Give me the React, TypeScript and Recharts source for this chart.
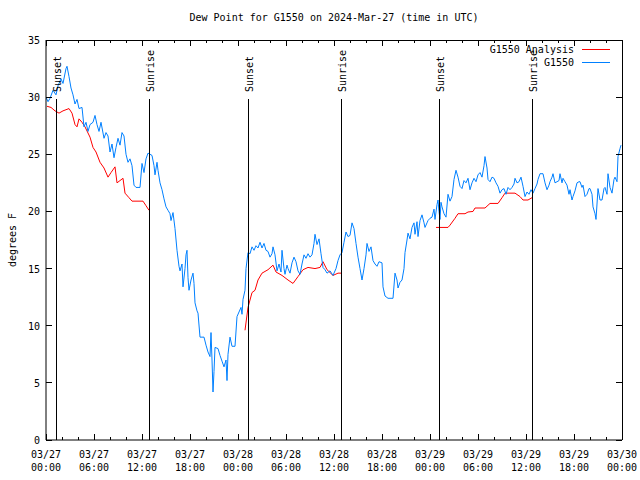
import React from 'react';
import { LineChart, Line, XAxis, YAxis, ReferenceLine } from 'recharts';

const FONT = '"DejaVu Sans Mono", monospace';
const PLOT_TOP = 40;
const PLOT_BOTTOM = 440;
const PLOT_LEFT = 46;
const PLOT_RIGHT = 622;

// hours since 03/27 00:00 UTC, dew point F
const stationObs: [number, number][] = [
  [0, 30.0], [0.25, 29.6], [0.5, 29.9], [0.875, 30.6], [1.25, 30.2], [1.5, 31.0], [1.875, 31.6], [2.125, 31.2],
  [2.5, 32.5], [2.625, 32.7], [2.875, 31.8], [3.125, 30.8], [3.375, 30.2], [3.625, 29.4], [3.875, 29.8], [4.125, 29.0],
  [4.5, 29.1], [4.75, 27.4], [5, 27.8], [5.25, 27.0], [5.5, 27.6], [5.875, 27.8], [6.125, 28.4], [6.375, 27.6],
  [6.625, 27.0], [6.875, 27.8], [7.25, 26.4], [7.5, 26.9], [7.75, 26.6], [8, 25.2], [8.25, 25.9], [8.5, 24.7],
  [8.75, 25.6], [9, 26.4], [9.25, 25.8], [9.5, 26.9], [9.75, 26.6], [10, 25.0], [10.25, 24.3], [10.5, 24.6],
  [10.75, 24.0], [11, 22.3], [11.25, 22.1], [11.75, 22.1], [12, 24.2], [12.25, 23.4], [12.5, 24.6], [12.75, 25.1],
  [13, 25.0], [13.25, 24.9], [13.5, 24.0], [13.625, 23.2], [13.875, 24.3], [14, 23.6], [14.25, 22.5], [14.5, 21.9],
  [14.75, 21.1], [15, 20.4], [15.25, 20.1], [15.5, 19.8], [15.625, 19.2], [15.875, 19.9], [16.125, 18.5], [16.375, 16.6],
  [16.625, 15.2], [16.75, 14.8], [17, 15.4], [17.125, 13.4], [17.375, 15.0], [17.5, 16.2], [17.625, 16.6], [17.75, 14.2],
  [17.875, 13.1], [18.125, 14.0], [18.375, 14.6], [18.5, 13.7], [18.625, 12.0], [18.875, 11.3], [19, 11.1], [19.25, 9.0],
  [19.75, 9.0], [20, 8.3], [20.25, 7.7], [20.5, 7.3], [20.625, 9.4], [20.75, 7.0], [20.875, 4.2], [21, 6.0],
  [21.125, 8.1], [21.5, 8.0], [21.75, 7.4], [22, 6.9], [22.25, 6.4], [22.5, 7.0], [22.625, 5.2], [22.75, 7.5],
  [23, 9.0], [23.25, 8.2], [23.625, 8.2], [23.875, 10.8], [24.125, 11.2], [24.375, 11.6], [24.5, 11.0], [24.625, 12.3],
  [24.875, 13.1], [25, 15.0], [25.25, 16.4], [25.5, 16.3], [25.75, 16.9], [26, 16.6], [26.25, 17.0], [26.5, 16.8],
  [26.75, 17.3], [27, 16.8], [27.25, 17.2], [27.5, 16.6], [27.75, 16.5], [28, 16.0], [28.25, 16.3], [28.375, 16.9],
  [28.625, 16.2], [28.875, 14.8], [29.125, 15.4], [29.375, 14.7], [29.5, 16.6], [29.75, 15.0], [29.875, 14.5], [30.125, 15.3],
  [30.25, 15.0], [30.5, 14.6], [30.75, 15.5], [31, 16.0], [31.25, 15.6], [31.5, 14.8], [31.75, 14.5], [32, 15.4],
  [32.25, 16.2], [32.5, 15.9], [32.75, 16.3], [33, 16.0], [33.25, 16.2], [33.5, 17.2], [33.625, 18.0], [33.875, 17.1],
  [34.125, 17.6], [34.375, 16.3], [34.625, 15.1], [34.875, 14.9], [35.125, 14.6], [35.5, 14.8], [35.875, 14.4], [36.25, 15.0],
  [36.5, 15.7], [36.75, 16.2], [37, 16.4], [37.25, 17.3], [37.5, 18.2], [37.75, 17.8], [38, 17.9], [38.25, 19.0],
  [38.5, 18.5], [38.75, 17.2], [39, 16.0], [39.25, 15.0], [39.5, 14.0], [39.75, 15.0], [40, 16.2], [40.125, 17.2],
  [40.375, 16.5], [40.625, 16.9], [40.875, 15.7], [41.125, 15.4], [41.375, 15.2], [41.625, 15.6], [42, 15.5], [42.125, 13.4],
  [42.375, 12.6], [42.75, 12.4], [43.375, 12.4], [43.625, 14.6], [43.875, 14.0], [44, 13.3], [44.25, 13.8], [44.5, 14.0],
  [44.75, 15.0], [44.875, 16.4], [45.125, 17.5], [45.25, 18.1], [45.5, 17.6], [45.75, 18.6], [46, 19.0], [46.125, 18.0],
  [46.375, 19.1], [46.5, 17.8], [46.75, 19.2], [47, 19.7], [47.25, 19.0], [47.375, 18.6], [47.625, 19.0], [47.75, 19.2],
  [48, 19.4], [48.25, 19.5], [48.5, 20.2], [48.625, 19.3], [48.875, 20.6], [49, 21.0], [49.125, 20.0], [49.25, 19.3],
  [49.375, 20.8], [49.5, 20.4], [49.75, 19.8], [50, 19.5], [50.25, 21.5], [50.5, 20.9], [50.75, 21.3], [51, 22.8],
  [51.25, 23.6], [51.5, 23.0], [51.75, 22.2], [52, 22.0], [52.25, 22.7], [52.5, 22.5], [52.75, 22.9], [53, 21.9],
  [53.25, 22.5], [53.5, 22.9], [53.75, 22.6], [54, 23.2], [54.25, 23.4], [54.5, 23.0], [54.75, 24.0], [54.875, 24.8],
  [55.125, 23.8], [55.25, 22.8], [55.5, 22.6], [55.75, 23.0], [56, 22.9], [56.25, 22.5], [56.5, 22.2], [56.75, 21.6],
  [57, 21.9], [57.25, 22.0], [57.5, 21.5], [57.75, 22.1], [58, 21.9], [58.25, 22.1], [58.5, 22.4], [58.625, 22.9],
  [58.875, 22.5], [59.125, 22.6], [59.375, 23.0], [59.625, 22.2], [59.875, 21.3], [60.125, 21.7], [60.375, 21.5], [60.625, 21.9],
  [60.875, 21.6], [61.125, 22.0], [61.375, 22.4], [61.5, 22.8], [61.75, 23.3], [62.125, 23.3], [62.375, 22.5], [62.625, 21.9],
  [62.875, 22.3], [63, 22.6], [63.25, 23.0], [63.375, 23.3], [63.625, 22.5], [63.875, 22.6], [64.125, 22.7], [64.25, 23.3],
  [64.5, 22.5], [64.625, 22.9], [64.875, 22.6], [65.125, 22.3], [65.375, 21.5], [65.5, 21.9], [65.75, 21.0], [65.875, 21.3],
  [66.125, 21.8], [66.375, 22.5], [66.625, 22.6], [66.75, 22.6], [67, 22.1], [67.125, 22.3], [67.375, 21.3], [67.625, 21.5],
  [67.875, 22.0], [68, 22.0], [68.25, 21.5], [68.375, 20.4], [68.625, 19.8], [68.75, 19.3], [69, 22.0], [69.25, 21.0],
  [69.5, 21.0], [69.75, 22.0], [69.875, 22.1], [70.125, 21.5], [70.25, 23.3], [70.5, 22.1], [70.75, 21.6], [71, 22.8],
  [71.125, 23.0], [71.375, 22.6], [71.5, 24.8], [71.75, 25.5], [71.875, 25.8],
];

const analysisNight1: [number, number][] = [
  [0.125, 29.2], [0.625, 29.1], [1.125, 28.8], [1.625, 28.6], [2.125, 28.8], [2.875, 29.0], [3.25, 28.6], [3.625, 27.6],
  [3.875, 27.4], [4.125, 28.1], [4.5, 27.8], [4.875, 27.4], [5.5, 26.5], [5.875, 25.6], [6.25, 25.2], [6.75, 24.3],
  [7.25, 23.8], [7.75, 23.0], [8.125, 23.4], [8.625, 23.9], [8.875, 22.5], [9.625, 22.9], [9.875, 21.6], [10.375, 21.2],
  [10.75, 20.9], [11.75, 20.9], [12.125, 20.9], [12.5, 20.5], [12.875, 20.1],
];
const analysisNight2: [number, number][] = [
  [24.875, 9.6], [25.25, 11.6], [25.75, 12.9], [26.125, 13.1], [26.5, 14.0], [27, 14.6], [27.75, 14.9], [28.375, 15.3],
  [28.75, 14.7], [29.5, 14.4], [30.25, 14.0], [30.875, 13.7], [31.5, 14.3], [32.125, 14.9], [32.75, 15.1], [33.625, 15.0],
  [34.25, 15.1], [34.625, 15.6], [35.125, 14.9], [35.875, 14.4], [36.5, 14.6], [37, 14.6],
];
const analysisNight3: [number, number][] = [
  [48.75, 18.6], [50.25, 18.6], [50.5, 18.8], [51.125, 19.4], [51.5, 19.8], [52.375, 19.8], [52.75, 19.95], [53.375, 20.0],
  [53.625, 20.3], [54.875, 20.3], [55.5, 20.7], [56.5, 20.7], [57, 21.2], [57.375, 21.6], [57.75, 21.6], [58.625, 21.6],
  [59.25, 21.3], [59.625, 21.0], [60.25, 21.0], [60.75, 21.2],
];

const sunHours = [1.25, 12.875, 25.25, 36.875, 49.125, 60.75];
const sunLabels = ['Sunset', 'Sunrise', 'Sunset', 'Sunrise', 'Sunset', 'Sunrise'];

const xTicks = [0, 2, 4, 6, 8, 10, 12, 14, 16, 18, 20, 22, 24, 26, 28, 30, 32, 34, 36, 38, 40, 42, 44, 46, 48, 50, 52, 54, 56, 58, 60, 62, 64, 66, 68, 70, 72];
const xTickDays = ['03/27', '03/27', '03/27', '03/27', '03/28', '03/28', '03/28', '03/28', '03/29', '03/29', '03/29', '03/29', '03/30'];
const xTickTimes = ['00:00', '06:00', '12:00', '18:00', '00:00', '06:00', '12:00', '18:00', '00:00', '06:00', '12:00', '18:00', '00:00'];
const yTicks = [0, 5, 10, 15, 20, 25, 30, 35];

const blueData = stationObs.map(([h, v]) => ({ h, v }));
const redData = [
  ...analysisNight1.map(([h, v]) => ({ h, v })),
  { h: 13, v: null },
  ...analysisNight2.map(([h, v]) => ({ h, v })),
  { h: 37.5, v: null },
  ...analysisNight3.map(([h, v]) => ({ h, v })),
];

function XTick(props: any) {
  const { x, payload } = props;
  const h = payload.value;
  const major = h % 6 === 0;
  const len = major ? 6 : 3;
  const i = h / 6;
  return (
    <g>
      <line x1={x} x2={x} y1={PLOT_BOTTOM} y2={PLOT_BOTTOM - len} stroke="#000" shapeRendering="crispEdges" />
      <line x1={x} x2={x} y1={PLOT_TOP} y2={PLOT_TOP + len} stroke="#000" shapeRendering="crispEdges" />
      {major && (
        <text x={x} y={PLOT_BOTTOM + 18} textAnchor="middle" fontFamily={FONT} fontSize={10} fill="#000">
          {xTickDays[i]}
        </text>
      )}
      {major && (
        <text x={x} y={PLOT_BOTTOM + 31} textAnchor="middle" fontFamily={FONT} fontSize={10} fill="#000">
          {xTickTimes[i]}
        </text>
      )}
    </g>
  );
}

function YTick(props: any) {
  const { y, payload } = props;
  return (
    <g>
      <line x1={PLOT_LEFT} x2={PLOT_LEFT + 6} y1={y} y2={y} stroke="#000" shapeRendering="crispEdges" />
      <line x1={PLOT_RIGHT} x2={PLOT_RIGHT - 6} y1={y} y2={y} stroke="#000" shapeRendering="crispEdges" />
      <text x={PLOT_LEFT - 6} y={y + 4} textAnchor="end" fontFamily={FONT} fontSize={10} fill="#000">
        {payload.value}
      </text>
    </g>
  );
}

function SunLine(label: string) {
  return (props: any) => {
    const x = props.x1;
    const top = Math.min(props.y1, props.y2);
    const bottom = Math.max(props.y1, props.y2);
    const ty = top + 52;
    return (
      <g>
        <line x1={x} x2={x} y1={top + 59} y2={bottom} stroke="#000" strokeWidth={1} shapeRendering="crispEdges" />
        <text x={x + 5} y={ty} transform={`rotate(-90 ${x + 5} ${ty})`} fontFamily={FONT} fontSize={10} fill="#000">
          {label}
        </text>
      </g>
    );
  };
}

export default function App() {
  return (
    <div style={{ position: 'absolute', left: 0, top: 0, width: 640, height: 480, background: '#fff' }}>
      <div style={{ position: 'absolute', left: 0, top: 12, width: 668, textAlign: 'center', fontFamily: FONT, fontSize: 10 }}>
        Dew Point for G1550 on 2024-Mar-27 (time in UTC)
      </div>
      <div style={{ position: 'absolute', left: 12, top: 240, transform: 'translate(-50%, -50%) rotate(-90deg)', fontFamily: FONT, fontSize: 10, whiteSpace: 'nowrap' }}>
        degrees F
      </div>
      <svg width={150} height={30} style={{ position: 'absolute', left: 470, top: 41 }}>
        <text x={104} y={12} textAnchor="end" fontFamily={FONT} fontSize={10} fill="#000">G1550 Analysis</text>
        <line x1={112} x2={140} y1={8.5} y2={8.5} stroke="#ff0000" />
        <text x={104} y={25} textAnchor="end" fontFamily={FONT} fontSize={10} fill="#000">G1550</text>
        <line x1={112} x2={140} y1={21.5} y2={21.5} stroke="#0080ff" />
      </svg>
      <LineChart width={640} height={480} margin={{ top: PLOT_TOP, right: 640 - PLOT_RIGHT, bottom: 0, left: 0 }}>
        <XAxis
          type="number"
          dataKey="h"
          domain={[0, 72]}
          ticks={xTicks}
          interval={0}
          height={40}
          tickLine={false}
          tick={<XTick />}
          axisLine={{ stroke: '#000' }}
          allowDataOverflow
        />
        <YAxis
          type="number"
          domain={[0, 35]}
          ticks={yTicks}
          interval={0}
          width={PLOT_LEFT}
          tickLine={false}
          tick={<YTick />}
          axisLine={{ stroke: '#000' }}
          allowDataOverflow
        />
        <Line data={redData} dataKey="v" name="G1550 Analysis" stroke="#ff0000" strokeWidth={1} dot={false} activeDot={false} isAnimationActive={false} />
        <Line data={blueData} dataKey="v" name="G1550" stroke="#0080ff" strokeWidth={1} dot={false} activeDot={false} isAnimationActive={false} />
        {sunHours.map((h, i) => (
          <ReferenceLine key={i} x={h} stroke="#000" shape={SunLine(sunLabels[i])} />
        ))}
        <ReferenceLine y={35} stroke="#000" shapeRendering="crispEdges" />
        <ReferenceLine x={72} stroke="#000" shapeRendering="crispEdges" />
      </LineChart>
    </div>
  );
}
